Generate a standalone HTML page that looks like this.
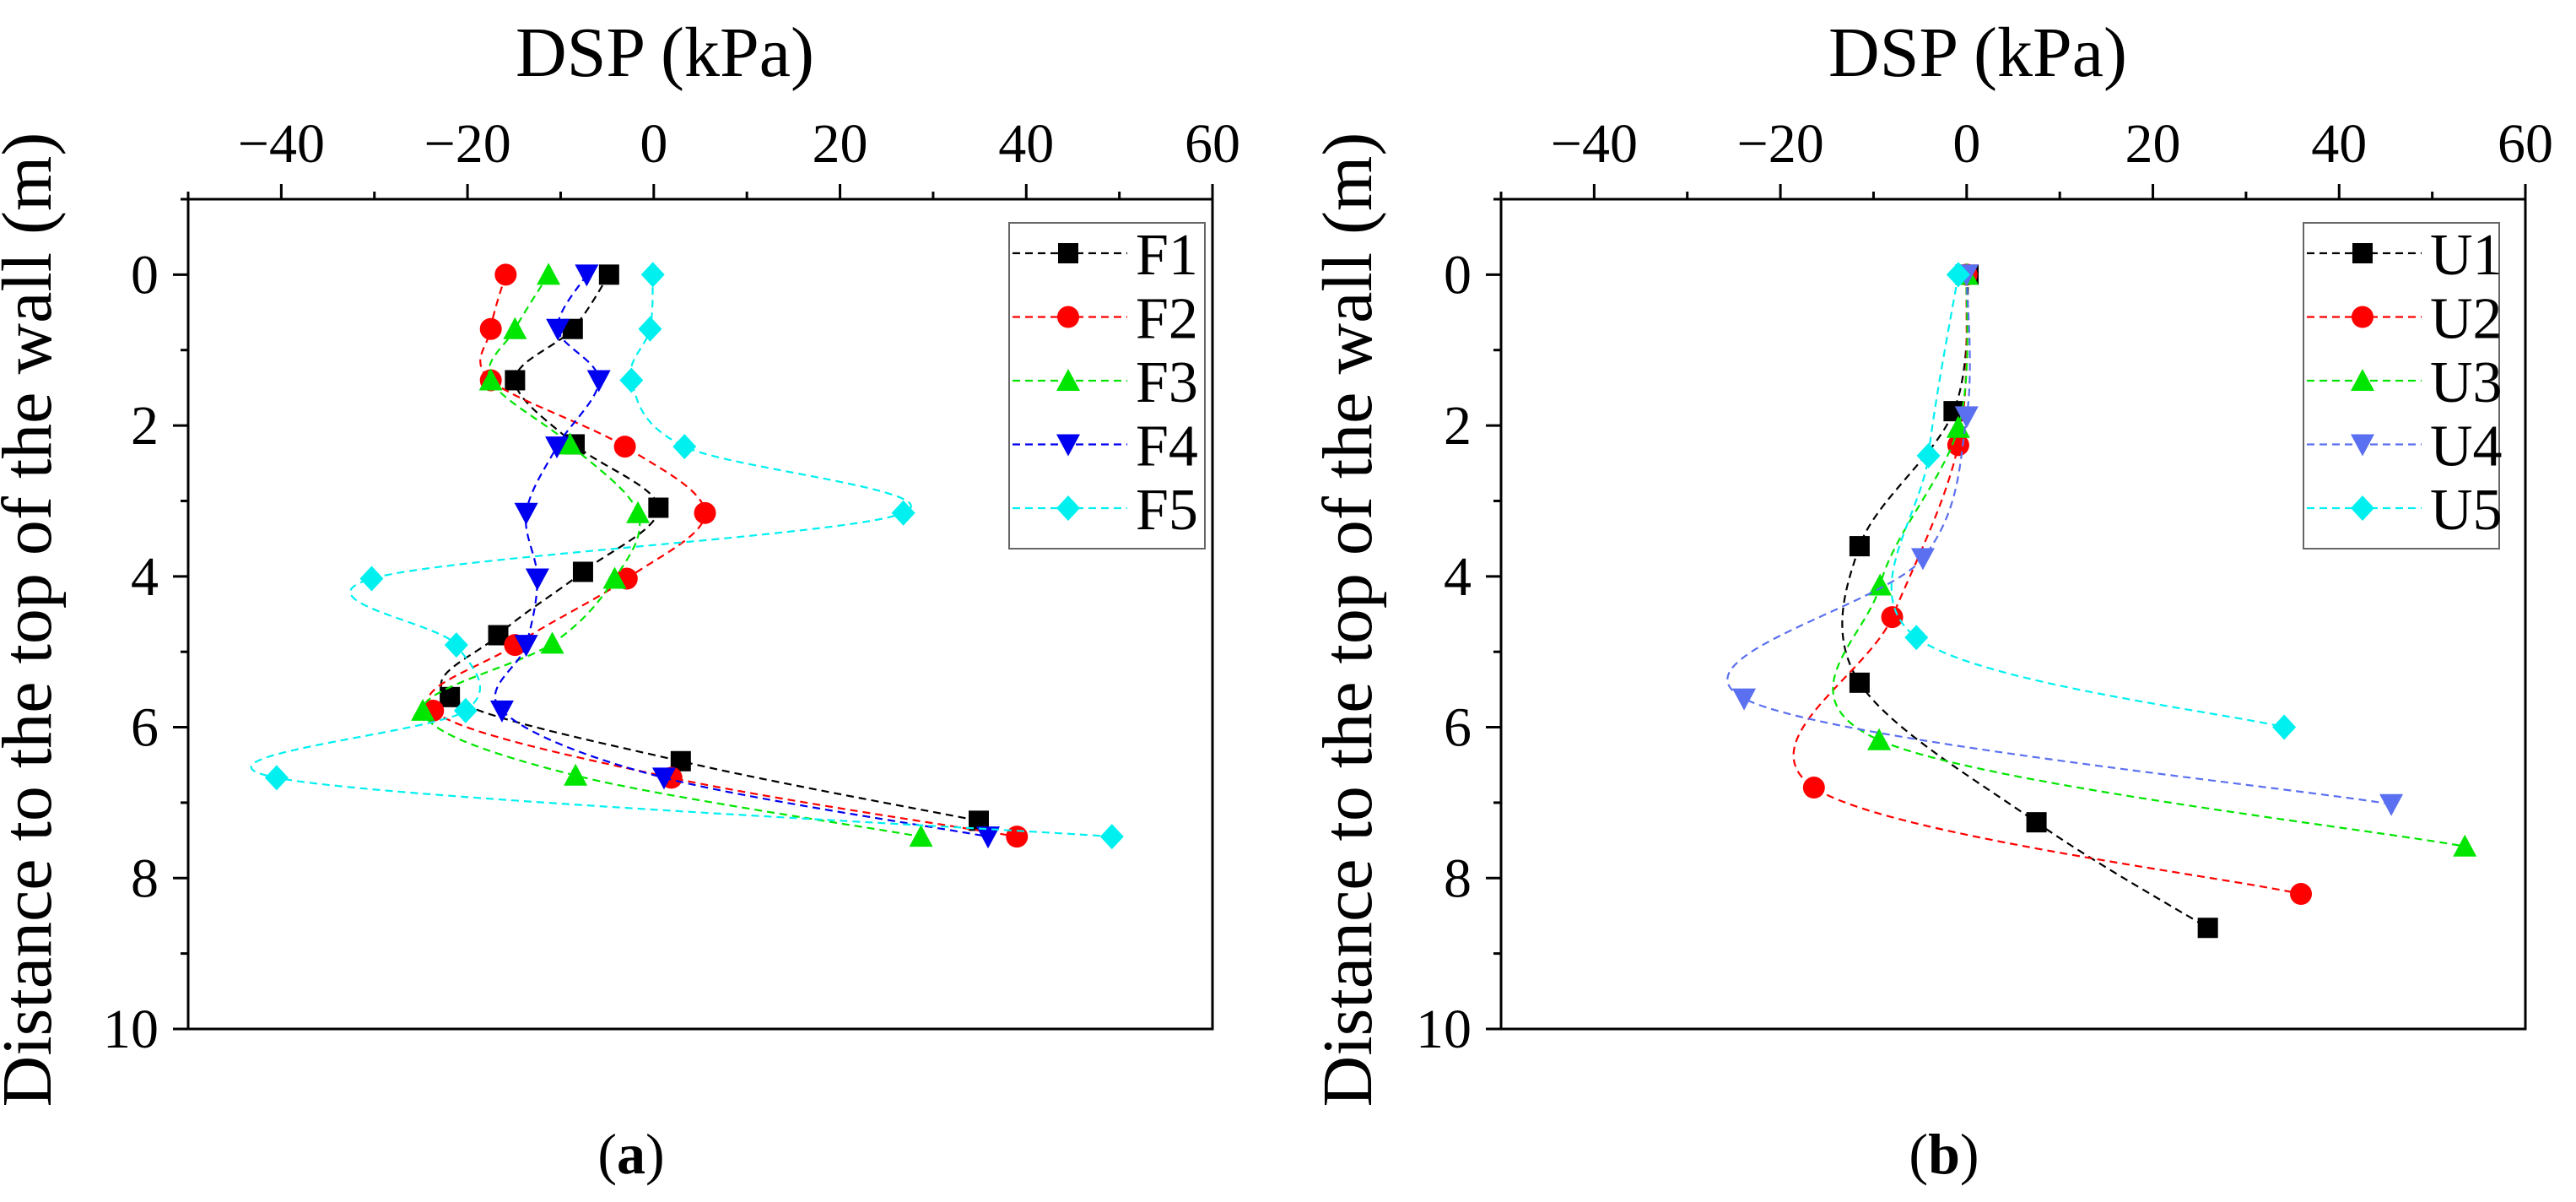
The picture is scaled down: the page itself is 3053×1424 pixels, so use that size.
<!DOCTYPE html>
<html><head><meta charset="utf-8"><style>
html,body{margin:0;padding:0;background:#fff;}
svg, svg text{font-family:"Liberation Serif","Times New Roman","DejaVu Serif",serif;}
</style></head><body>
<svg id="fig" width="3053" height="1419" viewBox="0 0 3053 1419" xmlns="http://www.w3.org/2000/svg" font-family="Liberation Serif, Times New Roman, DejaVu Serif, serif"></svg>
<script>
// ---- data ----
const xTicks = [-40, -20, 0, 20, 40, 60];
const yTicks = [0, 2, 4, 6, 8, 10];
const fNames = ["F1","F2","F3","F4","F5"];
const F1x = [-4.8,-8.7,-14.9,-8.5,0.5,-7.6,-16.7,-21.9,2.9,34.9];
const F1d = [0,0.72,1.4,2.25,3.09,3.94,4.78,5.6,6.45,7.24];
const F2x = [-15.9,-17.5,-17.5,-3.1,5.5,-2.9,-14.9,-23.7,1.9,39];
const F2d = [0,0.72,1.4,2.28,3.16,4.03,4.91,5.78,6.67,7.45];
const F3x = [-11.3,-14.9,-17.5,-9,-1.7,-4.2,-10.9,-24.8,-8.4,28.7];
const F3d = [0,0.72,1.4,2.25,3.16,4.03,4.89,5.78,6.64,7.45];
const F4x = [-7.2,-10.3,-5.9,-10.4,-13.7,-12.5,-13.7,-16.3,1.1,35.9];
const F4d = [0,0.72,1.4,2.28,3.16,4.03,4.91,5.78,6.67,7.45];
const F5x = [-0.1,-0.4,-2.4,3.3,26.8,-30.3,-21.2,-20.2,-40.5,49.2];
const F5d = [0,0.72,1.4,2.28,3.16,4.03,4.91,5.78,6.67,7.45];
const uNames = ["U1","U2","U3","U4","U5"];
const U1x = [0.2,-1.4,-11.5,-11.5,7.5,25.9];
const U1d = [0,1.81,3.6,5.41,7.26,8.66];
const U2x = [0,-0.9,-8,-16.4,35.9];
const U2d = [0,2.26,4.54,6.8,8.21];
const U3x = [0,-0.9,-9.3,-9.4,53.5];
const U3d = [0,2.03,4.12,6.17,7.58];
const U4x = [0,0,-4.7,-23.9,45.6];
const U4d = [0,1.88,3.76,5.62,7.02];
const U5x = [-0.9,-4.1,-5.4,34.1];
const U5d = [0,2.4,4.81,6.0];

const NS="http://www.w3.org/2000/svg";
const svg=document.getElementById('fig');
const FF='"Liberation Serif","Times New Roman","DejaVu Serif",serif';
function mk(tag,attrs,parent){const e=document.createElementNS(NS,tag);for(const k in attrs)e.setAttribute(k,attrs[k]);if(tag==='text')e.style.fontFamily=FF;(parent||svg).appendChild(e);return e;}

const colorsF=["#000","#f00","#00e600","#0000f0","#00f0f0"];
const colorsU=["#000","#f00","#00e600","#5b70f0","#00f0f0"];
const shapes=["square","circle","up","down","diamond"];

function marker(g,shape,x,y,c){
  const s=12;let e;
  if(shape==="square")e=mk('rect',{x:x-s,y:y-s,width:2*s,height:2*s,fill:c},g);
  else if(shape==="circle")e=mk('circle',{cx:x,cy:y,r:s+1,fill:c},g);
  else if(shape==="up")e=mk('polygon',{points:`${x},${y-s-2} ${x-s-2},${y+s} ${x+s+2},${y+s}`,fill:c},g);
  else if(shape==="down")e=mk('polygon',{points:`${x},${y+s+2} ${x-s-2},${y-s} ${x+s+2},${y-s}`,fill:c},g);
  else e=mk('polygon',{points:`${x},${y-s-3} ${x+s+2},${y} ${x},${y+s+3} ${x-s-2},${y}`,fill:c},g);
  
  
}
function spline(p){
  let d=`M${p[0][0]},${p[0][1]}`;
  for(let i=0;i<p.length-1;i++){
    const p0=p[i-1]||p[i],p1=p[i],p2=p[i+1],p3=p[i+2]||p[i+1];
    const c1=[p1[0]+(p2[0]-p0[0])/6,p1[1]+(p2[1]-p0[1])/6];
    const c2=[p2[0]-(p3[0]-p1[0])/6,p2[1]-(p3[1]-p1[1])/6];
    d+=` C${c1[0]},${c1[1]} ${c2[0]},${c2[1]} ${p2[0]},${p2[1]}`;
  }
  return d;
}

function panel(opt){
  const L=opt.left,T=236,W=1214,H=983;
  const sx=v=>L+(v+50)/110*W;
  const sy=v=>T+(v+1)/11*H;
  const g=mk('g',{});
  
  
  const ax=mk('rect',{x:L,y:T,width:W,height:H,fill:'none',stroke:'#000','stroke-width':3},g);
  
  
  for(let v=-50;v<=60;v+=10){
    const major=xTicks.includes(v);
    mk('line',{x1:sx(v),x2:sx(v),y1:T,y2:T-(major?18:9),stroke:'#000','stroke-width':3},g);
  }
  xTicks.forEach(v=>{
    const t=mk('text',{x:sx(v),y:192,'font-size':66,'text-anchor':'middle'},g);
    t.textContent=v<0?'\u2212'+Math.abs(v):String(v);
    
    
  });
  for(let v=-1;v<=10;v+=1){
    const major=yTicks.includes(v);
    mk('line',{x1:L,x2:L-(major?18:9),y1:sy(v),y2:sy(v),stroke:'#000','stroke-width':3},g);
  }
  yTicks.forEach(v=>{
    const t=mk('text',{x:L-35,y:sy(v)+22,'font-size':66,'text-anchor':'end'},g);
    t.textContent=String(v);
    
    
  });
  const tt=mk('text',{x:L+565,y:90,'font-size':84,'text-anchor':'middle'},g);
  tt.textContent='DSP (kPa)';
  
  
  const yl=mk('text',{x:0,y:0,'font-size':84,'text-anchor':'middle',transform:`translate(${opt.ylx},734) rotate(-90)`},g);
  yl.textContent='Distance to the top of the wall (m)';
  
  
  const cap=mk('text',{x:L+525,y:1390,'font-size':68,'text-anchor':'middle'},g);
  cap.innerHTML='(<tspan font-weight="bold">'+opt.cap+'</tspan>)';
  
  
  opt.series.forEach((s,i)=>{
    const sg=mk('g',{},g);
    
    
    const pts=s[0].map((v,j)=>[sx(v),sy(s[1][j])]);
    mk('path',{d:spline(pts),fill:'none',stroke:opt.colors[i],'stroke-width':2.2,'stroke-dasharray':'9 6'},sg);
    pts.forEach(p=>marker(sg,shapes[i],p[0],p[1],opt.colors[i]));
  });
  const lg=mk('g',{},g);
  
  
  mk('rect',{x:opt.legX,y:264,width:232,height:386,fill:'#fff',stroke:'#666','stroke-width':2},lg);
  opt.names.forEach((n,i)=>{
    const y=300+i*75.5;
    const eg=mk('g',{},lg);
    
    
    mk('line',{x1:opt.legX+4,x2:opt.legX+140,y1:y,y2:y,stroke:opt.colors[i],'stroke-width':2.2,'stroke-dasharray':'9 6'},eg);
    marker(eg,shapes[i],opt.legX+70,y,opt.colors[i]);
    const t=mk('text',{x:opt.legX+150,y:y+25,'font-size':70},eg);
    t.textContent=n;
  });
}
panel({name:'panel-a',left:223,ylx:60,cap:'a',legX:1196,names:fNames,colors:colorsF,
  series:[[F1x,F1d],[F2x,F2d],[F3x,F3d],[F4x,F4d],[F5x,F5d]]});
panel({name:'panel-b',left:1779,ylx:1625,cap:'b',legX:2730,names:uNames,colors:colorsU,
  series:[[U1x,U1d],[U2x,U2d],[U3x,U3d],[U4x,U4d],[U5x,U5d]]});
</script>
</body></html>
